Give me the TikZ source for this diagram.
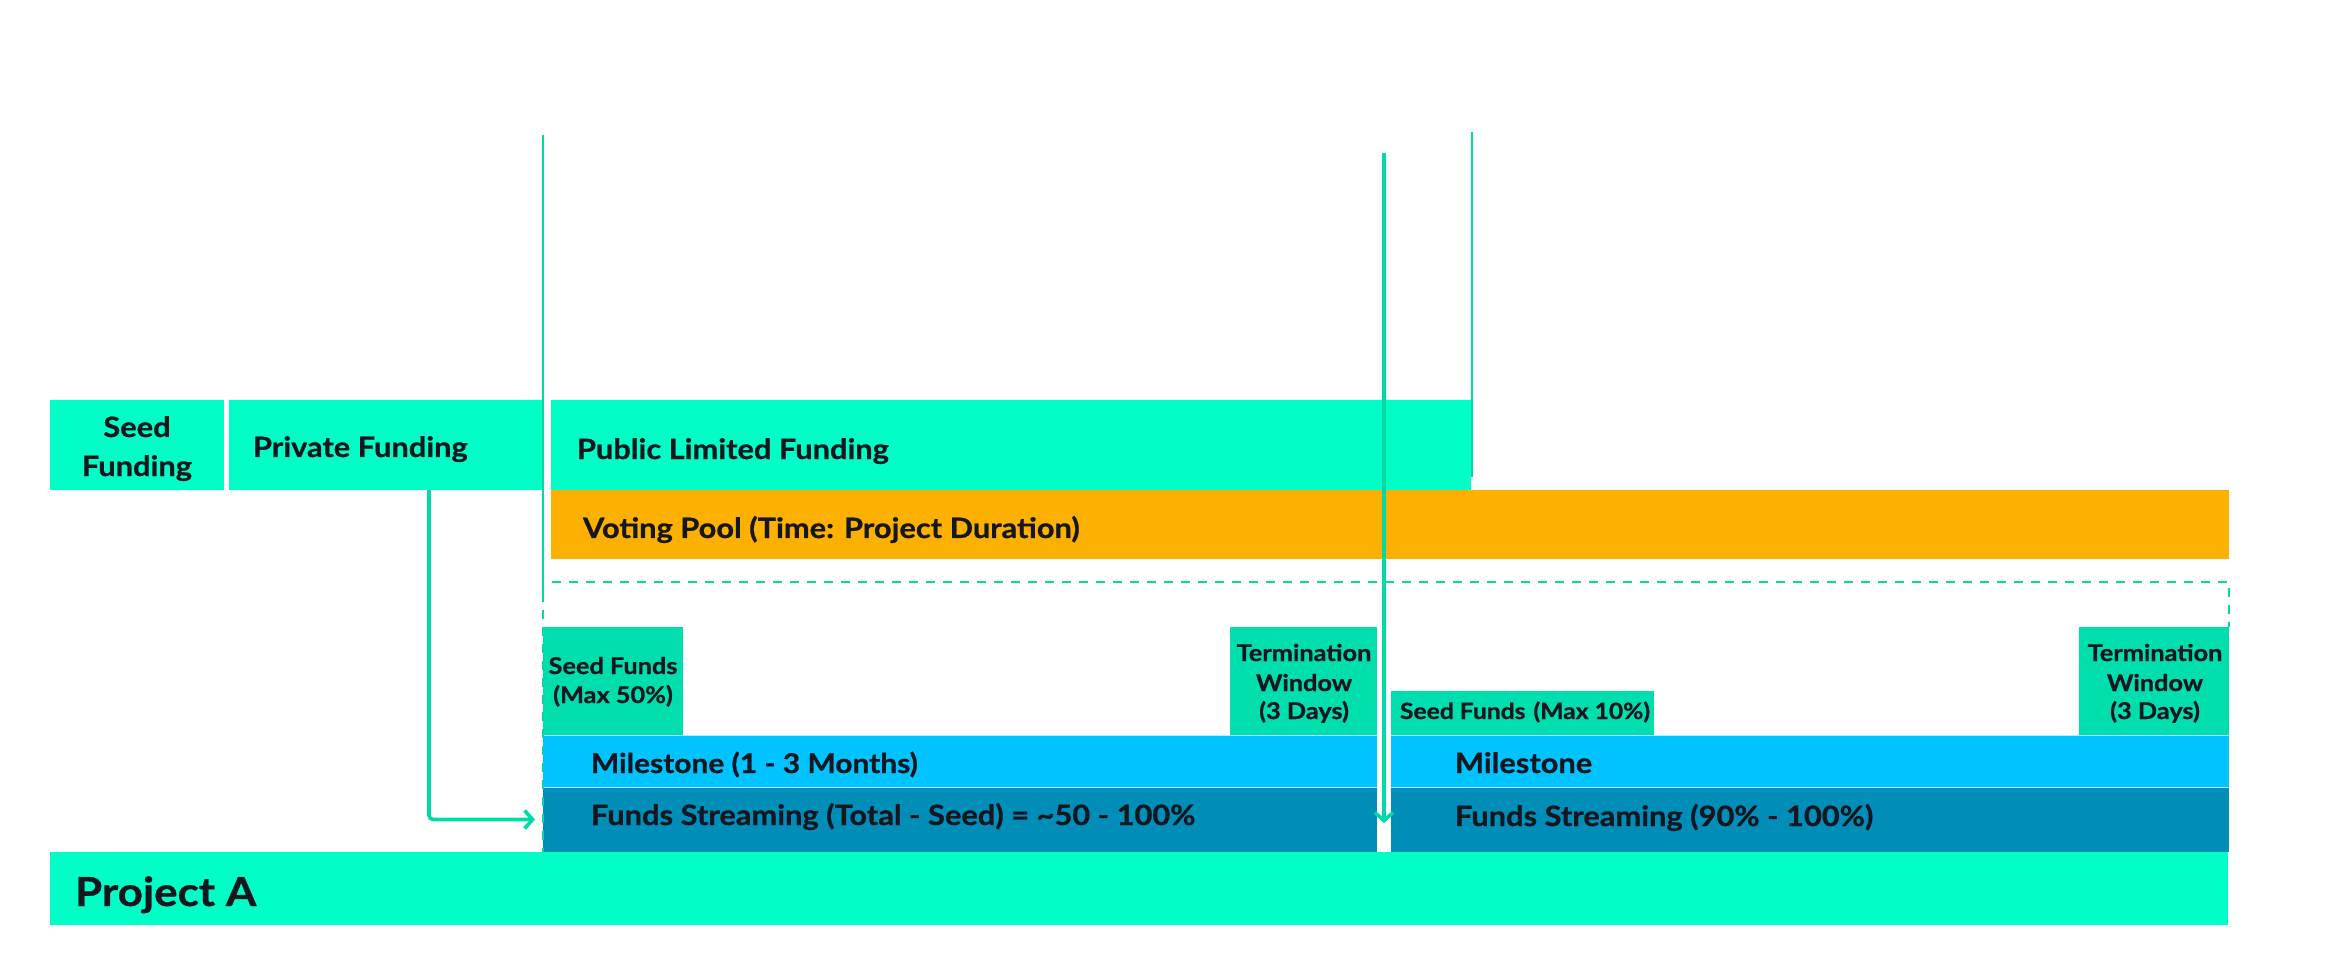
\documentclass[tikz,border=0pt]{standalone}
\usepackage{fontspec}
\setmainfont{Lato}[FakeStretch=1.1,BoldFeatures={FakeBold=0.8}]
\usetikzlibrary{arrows.meta}
\definecolor{mint}{HTML}{00FFC6}
\definecolor{linec}{HTML}{00DBA6}
\definecolor{seedc}{HTML}{00DEAE}
\definecolor{orangec}{HTML}{FCB100}
\definecolor{milec}{HTML}{00C3FF}
\definecolor{streamc}{HTML}{008DB8}
\definecolor{ink}{HTML}{15161E}
\begin{document}
\begin{tikzpicture}[x=0.5pt,y=-0.5pt,
  box/.style={rectangle,inner sep=0pt,outer sep=0pt,anchor=north west,draw=none},
  txt/.style={inner sep=0pt,outer sep=0pt,anchor=base west,text=ink,font=\bfseries\fontsize{14pt}{17pt}\selectfont},
  ctxt/.style={inner sep=0pt,outer sep=0pt,anchor=base,text=ink,font=\bfseries\fontsize{14pt}{17pt}\selectfont},
  stxt/.style={inner sep=0pt,outer sep=0pt,anchor=base,text=ink,font=\bfseries\fontsize{11.5pt}{14pt}\selectfont},
  bigtxt/.style={inner sep=0pt,outer sep=0pt,anchor=base west,text=ink,font=\bfseries\fontsize{20pt}{24pt}\selectfont},
  vline/.style={draw=linec,line width=1.4pt},
  dline/.style={draw=linec,line width=1.35pt,dash pattern=on 4.5pt off 4pt},
  conn/.style={draw=linec,line width=1.8pt,-{Straight Barb[length=4pt,width=9pt,line width=1.8pt]}},
  sepl/.style={draw=white!70!milec,line width=0.5pt}
]
\useasboundingbox (0,0) rectangle (2345,962);

% boxes
\node[box,fill=mint,minimum width=87pt,minimum height=45pt] (seedF) at (50,400) {};
\node[box,fill=mint,minimum width=156.5pt,minimum height=45pt] (privF) at (229,400) {};
\node[box,fill=mint,minimum width=460pt,minimum height=45pt] (pubF) at (551,400) {};
\node[box,fill=orangec,minimum width=839pt,minimum height=34.5pt] (vote) at (551,490) {};
\node[box,fill=seedc,minimum width=70pt,minimum height=54pt] (seed50) at (543,627) {};
\node[box,fill=seedc,minimum width=73.5pt,minimum height=54pt] (term1) at (1230,627) {};
\node[box,fill=milec,minimum width=417pt,minimum height=26pt] (mile1) at (543,735) {};
\node[box,fill=streamc,minimum width=417pt,minimum height=32.5pt] (stream1) at (543,787) {};
\node[box,fill=seedc,minimum width=131.5pt,minimum height=22pt] (seed10) at (1391,691) {};
\node[box,fill=seedc,minimum width=75pt,minimum height=54pt] (term2) at (2079,627) {};
\node[box,fill=milec,minimum width=419pt,minimum height=26pt] (mile2) at (1391,735) {};
\node[box,fill=streamc,minimum width=419pt,minimum height=32.5pt] (stream2) at (1391,787) {};
\node[box,fill=mint,minimum width=1089pt,minimum height=36.5pt] (projA) at (50,852) {};

% separators
\draw[sepl] (mile1.south west) -- (mile1.south east);
\draw[sepl] (mile2.south west) -- (mile2.south east);
\draw[sepl] (mile1.north west) -- (mile1.north east);
\draw[sepl] (mile2.north west) -- (mile2.north east);

% texts
\node[ctxt] (tSeedA) at (137,437) {Seed};
\node[ctxt] (tSeedB) at (137,476) {Funding};
\node[txt] (tPriv) at (253,457) {Private Funding};
\node[txt] (tPub) at (577,459) {Public Limited Funding};
\node[txt] (tVote) at (583,538) {Voting Pool (Time: Project Duration)};
\node[stxt] (t50a) at (613,674) {Seed Funds};
\node[stxt] (t50b) at (613,703) {(Max 50\%)};
\node[stxt] (tT1a) at (1304,661) {Termination};
\node[stxt] (tT1b) at (1304,691) {Window};
\node[stxt] (tT1c) at (1304,719) {(3 Days)};
\node[stxt] (tT2a) at (2155,661) {Termination};
\node[stxt] (tT2b) at (2155,691) {Window};
\node[stxt] (tT2c) at (2155,719) {(3 Days)};
\node[stxt,anchor=base west,font=\bfseries\fontsize{11.2pt}{14pt}\selectfont] (t10) at (1400,719) {Seed Funds\hspace{1pt} (Max 10\%)};
\node[txt,font=\bfseries\fontsize{13.6pt}{17pt}\selectfont] (tMile1) at (591,773) {Milestone (1 - 3 Months)};
\node[txt] (tStr1) at (591,825) {Funds Streaming (Total - Seed) = \textasciitilde50 - 100\%};
\node[txt] (tMile2) at (1455,773) {Milestone};
\node[txt] (tStr2) at (1455,826) {Funds Streaming (90\% - 100\%)};
\node[bigtxt] (tProj) at (75,906) {Project A};

% lines
\coordinate (lt) at (543,135);
\coordinate (lm) at (543,593);
\draw[vline] (lt) -- (lm);
\draw[dline] (lm) -- (lm |- projA.north);
\coordinate (fl) at (552,582);
\coordinate (fr) at (2229,582);
\draw[dline] (fl) -- (fr) -- (fr |- term2.north);
\coordinate (rt) at (1472,132);
\coordinate (rb) at (1472,477);
\draw[vline,line width=1.3pt] (rt) -- (rb);

% connectors
\coordinate (pa) at (429,490);
\draw[conn,rounded corners=2pt,shorten >=4pt] (pa) |- (stream1.west);
\coordinate (mt) at (1384,153);
\coordinate (mb) at (1384,823);
\draw[conn,line width=2pt] (mt) -- (mb);
\end{tikzpicture}
\end{document}
